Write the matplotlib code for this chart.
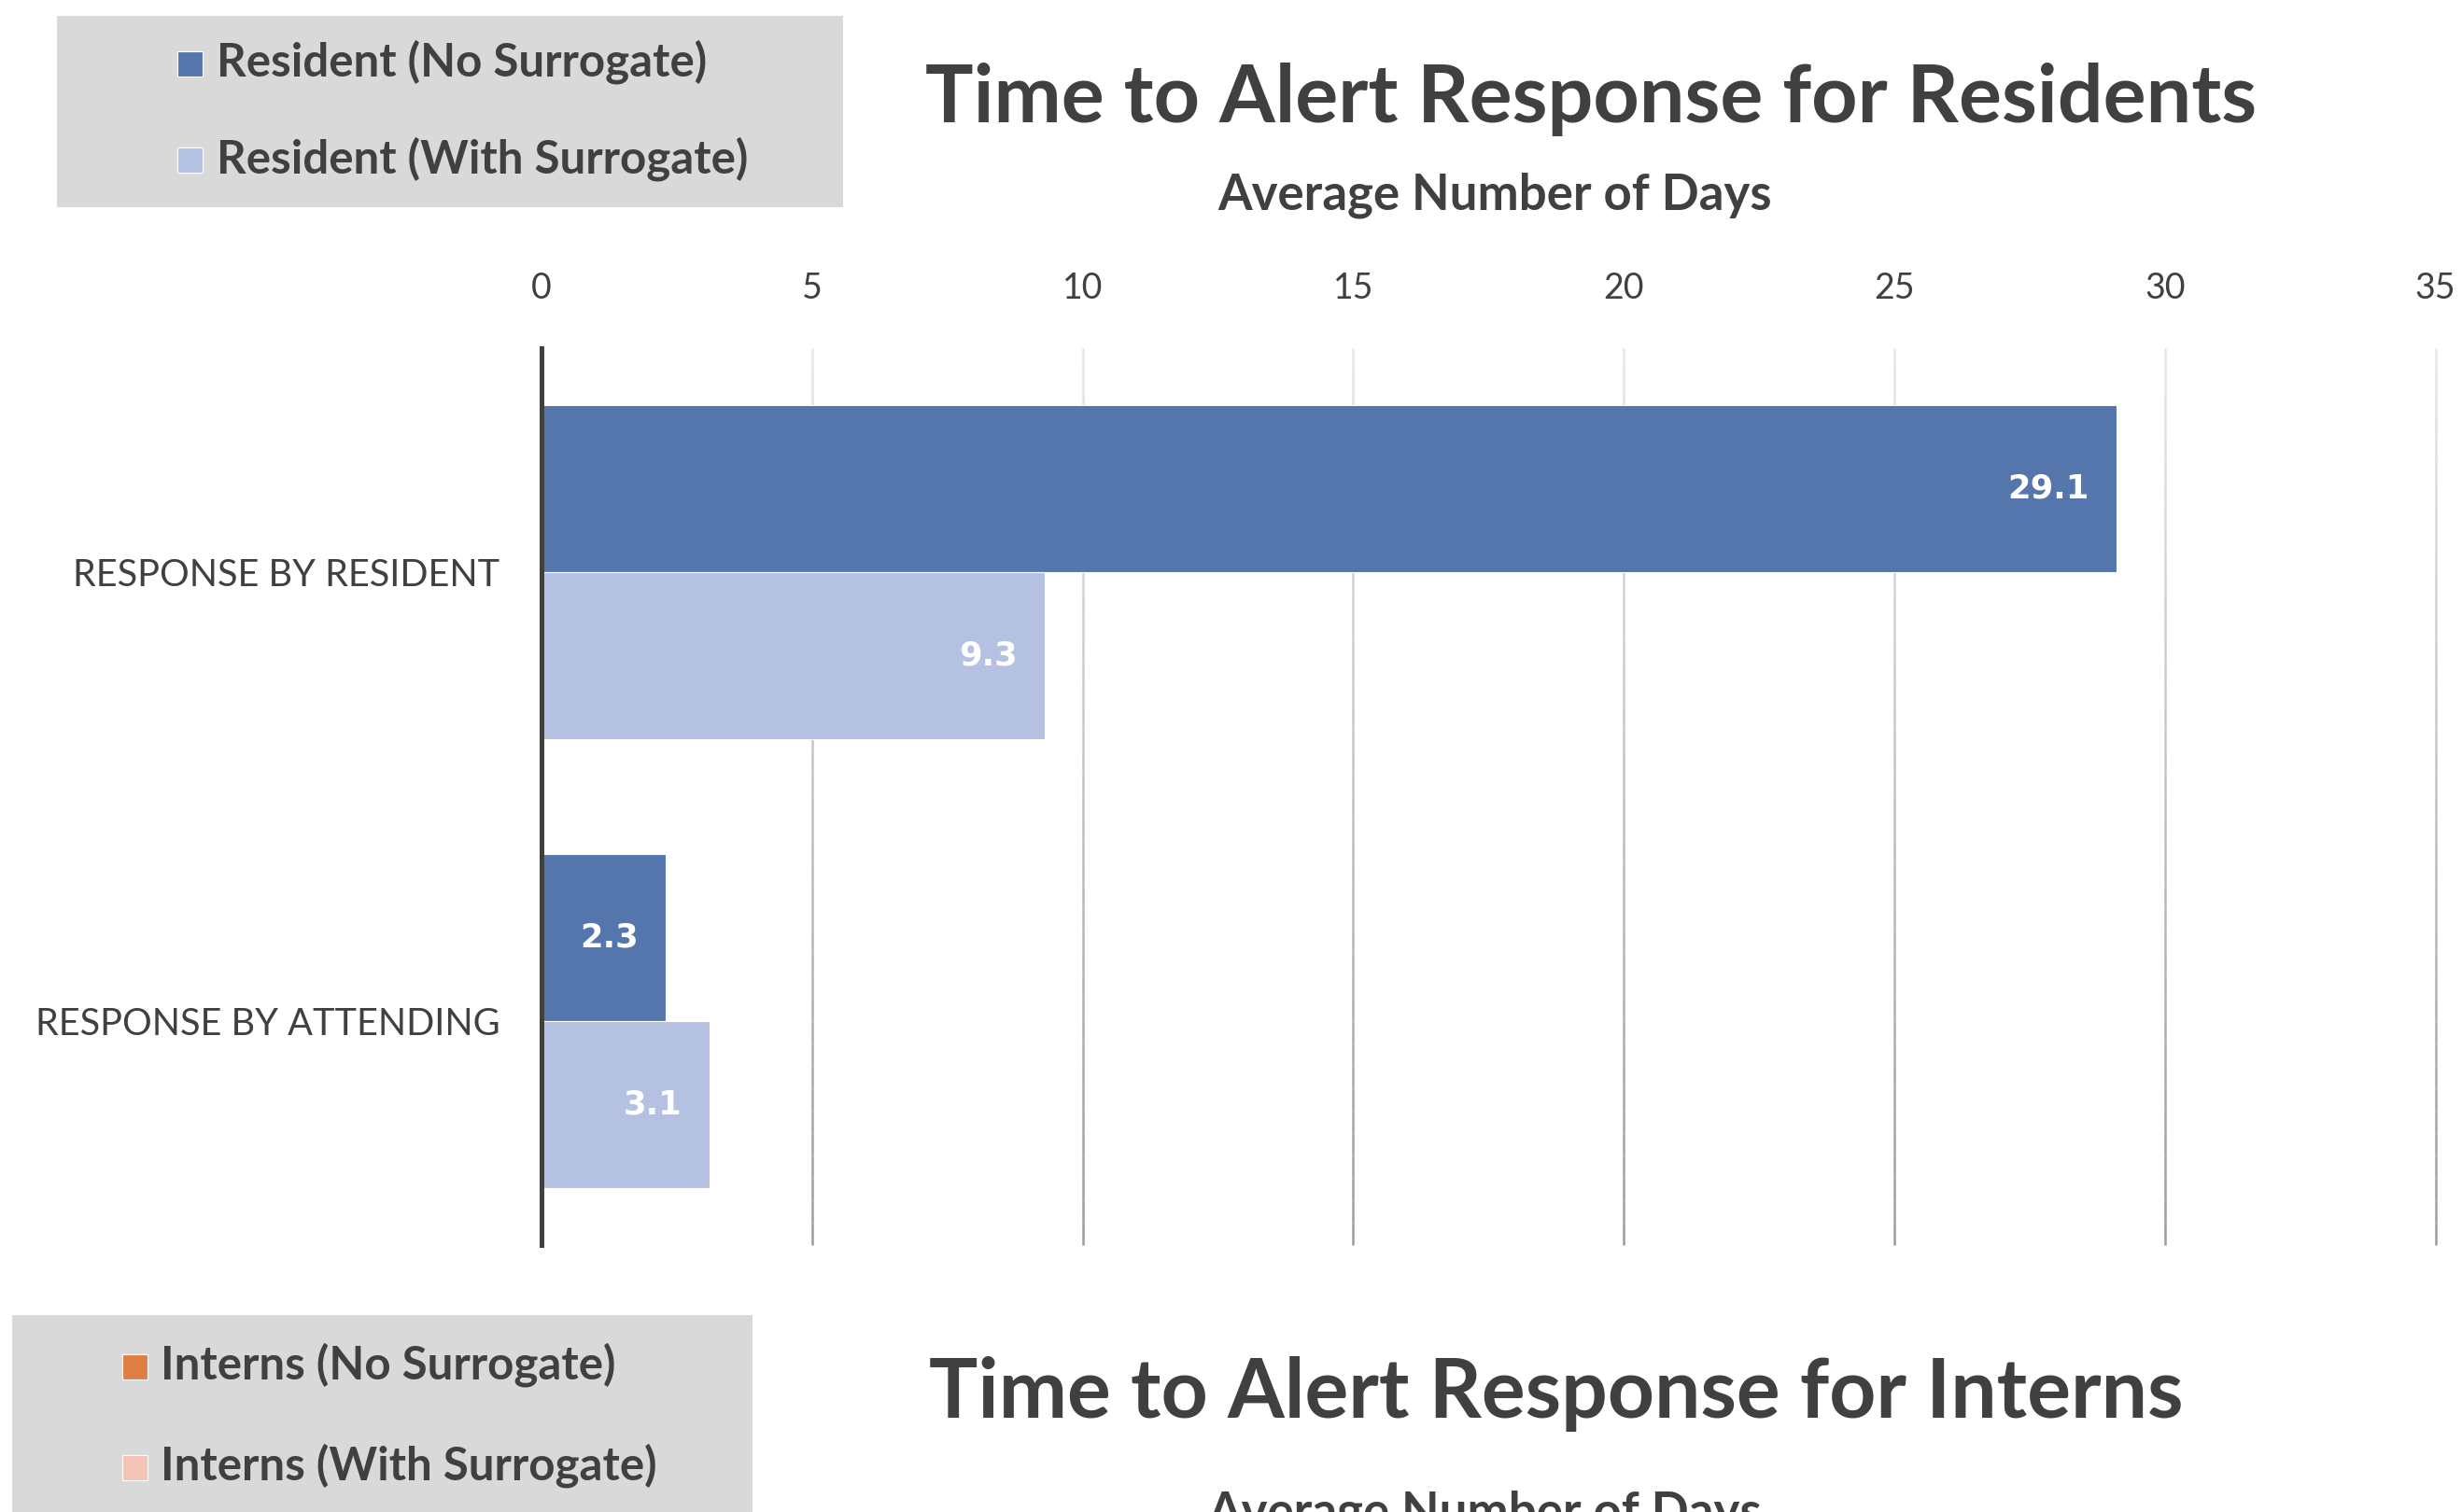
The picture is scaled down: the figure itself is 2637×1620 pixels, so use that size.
import numpy as np
import matplotlib
matplotlib.use("Agg")
import matplotlib.pyplot as plt
from matplotlib.patches import Rectangle
from matplotlib.collections import LineCollection
from matplotlib.colors import to_rgb

# data
categories = ["RESPONSE BY RESIDENT", "RESPONSE BY ATTENDING"]
no_surrogate = [29.1, 2.3]
with_surrogate = [9.3, 3.1]
resident_labels = ["Resident (No Surrogate)", "Resident (With Surrogate)"]
intern_labels = ["Interns (No Surrogate)", "Interns (With Surrogate)"]
x_ticks = [0, 5, 10, 15, 20, 25, 30, 35]

DARK = "#5575ad"
LIGHT = "#b4c1e0"
ORANGE = "#e07f45"
PINK = "#f3c4b5"
TXT = "#404040"
BOXGRAY = "#d9d9d9"
FONT = "Lato"

W, H = 2637, 1620
fig = plt.figure(figsize=(W / 100, H / 100), dpi=100)
fig.patch.set_facecolor("white")


def fx(x):
    return x / W


def fy(y):
    # y measured from the top of the figure, in pixels
    return 1 - y / H


def legend_box(x0, y0, x1, y1, entries):
    fig.patches.append(Rectangle((fx(x0), fy(y1)), fx(x1 - x0), (y1 - y0) / H,
                                 transform=fig.transFigure, facecolor=BOXGRAY,
                                 edgecolor="none", zorder=0))
    for sx, tx, base, sq, label, col in entries:
        fig.patches.append(Rectangle((fx(sx), fy(base)), fx(sq), sq / H,
                                     transform=fig.transFigure, facecolor=col,
                                     edgecolor="white", linewidth=0.8, zorder=1))
        fig.text(fx(tx), fy(base), label, ha="left", va="baseline",
                 fontsize=35.5, fontweight="bold", family=FONT, color=TXT)


# top chart
ax = fig.add_axes([fx(580), fy(1334), fx(2608.5 - 580), (1334 - 373) / H])
ypos = np.arange(len(categories))
bh = 0.373
b1 = ax.barh(ypos - bh / 2, no_surrogate, height=bh, color=DARK,
             edgecolor="white", linewidth=0.8, zorder=3)
b2 = ax.barh(ypos + bh / 2, with_surrogate, height=bh, color=LIGHT,
             edgecolor="white", linewidth=0.8, zorder=3)

# value labels, inside the end of each bar
for bars in (b1, b2):
    for rect, v in zip(bars.patches, bars.datavalues):
        yc = rect.get_y() + rect.get_height() / 2
        ax.annotate(f"{v:.1f}", xy=(v, yc), xytext=(-21, 0),
                    textcoords="offset points", ha="right", va="center",
                    color="white", fontsize=25.5, fontweight="bold",
                    family="DejaVu Sans", zorder=4)

ax.set_xlim(0, 35)
ax.set_ylim(1.5, -0.5)

# gridlines fade from light at the top to darker at the bottom
top_c = np.array(to_rgb("#e6e6e6"))
bot_c = np.array(to_rgb("#9c9c9c"))
n = 40
ys = np.linspace(-0.5, 1.5, n + 1)
for xv in x_ticks[1:]:
    segs = [[(xv, ys[i]), (xv, ys[i + 1])] for i in range(n)]
    cols = [tuple(top_c + (bot_c - top_c) * (i / (n - 1))) for i in range(n)]
    ax.add_collection(LineCollection(segs, colors=cols, linewidths=1.8,
                                     zorder=1, clip_on=False))
ax.axvline(0, color=TXT, linewidth=3.6, zorder=5, clip_on=False)

for s in ax.spines.values():
    s.set_visible(False)
ax.xaxis.tick_top()
ax.set_xticks(x_ticks)
ax.set_xticklabels([str(t) for t in x_ticks])
ax.set_yticks(ypos)
ax.set_yticklabels(categories)
ax.tick_params(axis="x", length=0, pad=33, labelsize=27, labelcolor=TXT)
ax.tick_params(axis="y", length=0, pad=32, labelsize=28.5, labelcolor=TXT)
for lab in ax.get_xticklabels() + ax.get_yticklabels():
    lab.set_family(FONT)

fig.text(fx(1704), fy(131), "Time to Alert Response for Residents",
         ha="center", va="baseline", fontsize=62, fontweight="bold",
         family=FONT, color=TXT)
fig.text(fx(1601), fy(224), "Average Number of Days", ha="center",
         va="baseline", fontsize=38, fontweight="bold", family=FONT, color=TXT)

legend_box(61, 17, 903, 222,
           [(190, 232, 82, 27, resident_labels[0], DARK),
            (190, 232, 185, 27, resident_labels[1], LIGHT)])

# second chart, only its header shows
legend_box(13, 1409, 806, 1700,
           [(131, 172, 1478, 27, intern_labels[0], ORANGE),
            (131, 172, 1586, 27, intern_labels[1], PINK)])
fig.text(fx(1667), fy(1519), "Time to Alert Response for Interns",
         ha="center", va="baseline", fontsize=63, fontweight="bold",
         family=FONT, color=TXT)
fig.text(fx(1590), fy(1636), "Average Number of Days", ha="center",
         va="baseline", fontsize=38, fontweight="bold", family=FONT, color=TXT)

fig.savefig("out.png", dpi=100)
